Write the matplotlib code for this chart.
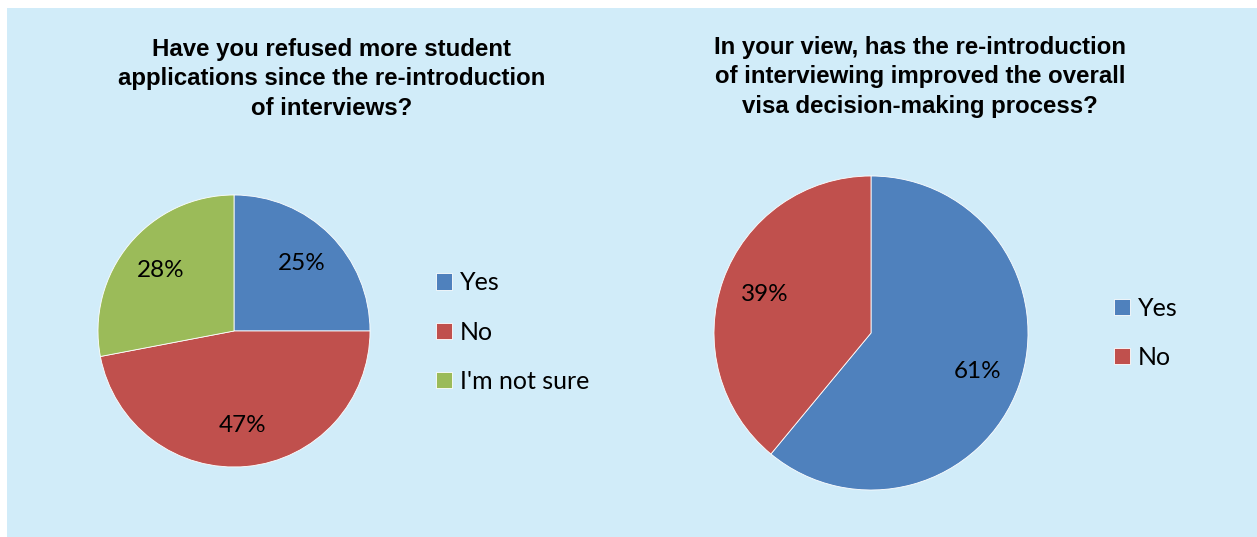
import matplotlib.pyplot as plt
from matplotlib.patches import Rectangle

W, H = 1257, 537

# data
left_title = "Have you refused more student\napplications since the re-introduction\nof interviews?"
left_labels = ["Yes", "No", "I'm not sure"]
left_values = [25, 47, 28]

right_title = "In your view, has the re-introduction\nof interviewing improved the overall\nvisa decision-making process?"
right_labels = ["Yes", "No"]
right_values = [61, 39]

colors = ["#4F81BD", "#C0504D", "#9BBB59"]
bg = "#D1ECF9"
label_font = "Lato"


def px_axes(fig, cx, cy, r):
    """axes box from pixel center / radius (y measured from the top)"""
    return fig.add_axes([(cx - r) / W, (H - cy - r) / H, 2 * r / W, 2 * r / H])


def draw_pie(ax, values, pctdist):
    wedges, _, autotexts = ax.pie(values, colors=colors[:len(values)], startangle=90,
                                  counterclock=False, autopct="%d%%", pctdistance=pctdist,
                                  wedgeprops=dict(edgecolor="white", linewidth=0.6),
                                  textprops=dict(fontsize=17.5, family=label_font, color="black"))
    ax.set_xlim(-1, 1)
    ax.set_ylim(-1, 1)
    return wedges


fig = plt.figure(figsize=(W / 100, H / 100), dpi=100, facecolor="white")
fig.patches.append(Rectangle((7 / W, 0), 1, (H - 8) / H, transform=fig.transFigure,
                             facecolor=bg, edgecolor="none", zorder=-10))

ax1 = px_axes(fig, 234, 331, 136)
w1 = draw_pie(ax1, left_values, 0.7)
ax2 = px_axes(fig, 871, 333, 157)
w2 = draw_pie(ax2, right_values, 0.72)

fig.text(332 / W, 1 - 79 / H, left_title, ha="center", va="center", fontsize=17.3,
         fontweight="bold", family="Liberation Sans", linespacing=1.36)
fig.text(920 / W, 1 - 77 / H, right_title, ha="center", va="center", fontsize=17.3,
         fontweight="bold", family="Liberation Sans", linespacing=1.36)

legend_kw = dict(frameon=False, handlelength=0.62, handleheight=0.62, handletextpad=0.35,
                 labelspacing=1.05, prop=dict(family=label_font, size=18),
                 bbox_transform=fig.transFigure, loc="center left", borderaxespad=0)
fig.legend(w1, left_labels, bbox_to_anchor=(426 / W, 1 - 332 / H), **legend_kw)
fig.legend(w2, right_labels, bbox_to_anchor=(1104 / W, 1 - 333 / H), **legend_kw)

fig.savefig("out.png", dpi=100, facecolor="white")
